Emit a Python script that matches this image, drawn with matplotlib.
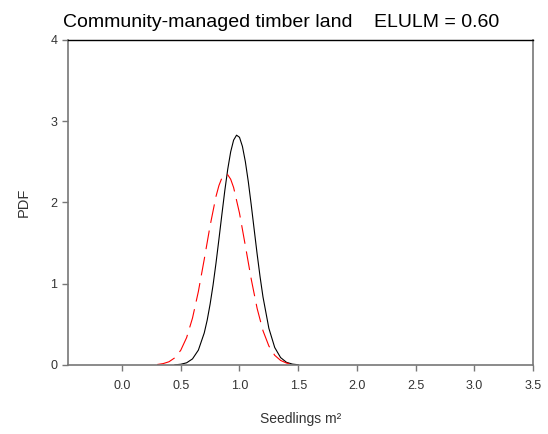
import matplotlib
matplotlib.use("Agg")
import matplotlib.pyplot as plt

plt.rcParams['font.family'] = ['Liberation Sans', 'DejaVu Sans']

# density of seedlings per m2, two fitted curves
x_black = [0.45, 0.50, 0.55, 0.60, 0.65, 0.70, 0.725, 0.75, 0.775, 0.80, 0.825,
           0.85, 0.875, 0.90, 0.925, 0.95, 0.975, 1.00, 1.025, 1.05, 1.075,
           1.10, 1.125, 1.15, 1.175, 1.20, 1.25, 1.30, 1.35, 1.40, 1.45, 1.50]
y_black = [0.002, 0.009, 0.027, 0.075, 0.183, 0.394, 0.551, 0.749, 0.983, 1.253,
           1.547, 1.850, 2.145, 2.409, 2.623, 2.767, 2.828, 2.802, 2.690, 2.502,
           2.256, 1.970, 1.668, 1.368, 1.088, 0.838, 0.452, 0.215, 0.091, 0.033,
           0.011, 0.003]

x_red = [0.30, 0.35, 0.40, 0.45, 0.50, 0.55, 0.60, 0.65, 0.70, 0.75, 0.80, 0.825,
         0.85, 0.875, 0.90, 0.925, 0.95, 1.00, 1.05, 1.10, 1.15, 1.20, 1.25,
         1.30, 1.35, 1.40, 1.45]
y_red = [0.006, 0.017, 0.040, 0.089, 0.181, 0.337, 0.577, 0.904, 1.300, 1.715,
         2.074, 2.208, 2.301, 2.346, 2.341, 2.286, 2.184, 1.869, 1.467, 1.056,
         0.697, 0.422, 0.234, 0.119, 0.056, 0.024, 0.009]

x_ticks = [0.0, 0.5, 1.0, 1.5, 2.0, 2.5, 3.0, 3.5]
y_ticks = [0, 1, 2, 3, 4]

fig = plt.figure(figsize=(5.48, 4.34), dpi=100)
ax = fig.add_axes([0.124, 0.159, 0.849, 0.749])

ax.plot(x_black, y_black, color='black', lw=0.8)
ax.plot(x_red, y_red, color='red', lw=0.8, dashes=(17, 7))

ax.set_xlim(-0.46, 3.5)
ax.set_ylim(0, 4)
ax.set_xticks(x_ticks)
ax.set_xticklabels([f"{v:.1f}" for v in x_ticks])
ax.set_yticks(y_ticks)

for side in ['left', 'right', 'bottom']:
    ax.spines[side].set_color('#777777')
    ax.spines[side].set_linewidth(1.2)
ax.spines['top'].set_color('black')
ax.spines['top'].set_linewidth(1.0)

ax.tick_params(direction='out', length=4, width=1, color='#777777',
               labelsize=9, labelcolor='#333333')
ax.tick_params(axis='x', pad=7)

ax.set_xlabel('Seedlings m²', fontsize=10, color='#333333', labelpad=14)
ax.set_ylabel('PDF', fontsize=10.5, color='#333333', labelpad=14)
fig.text(0.513, 0.938, 'Community-managed timber land    ELULM = 0.60',
         fontsize=14, ha='center', va='baseline')

fig.savefig('out.png', dpi=100)
